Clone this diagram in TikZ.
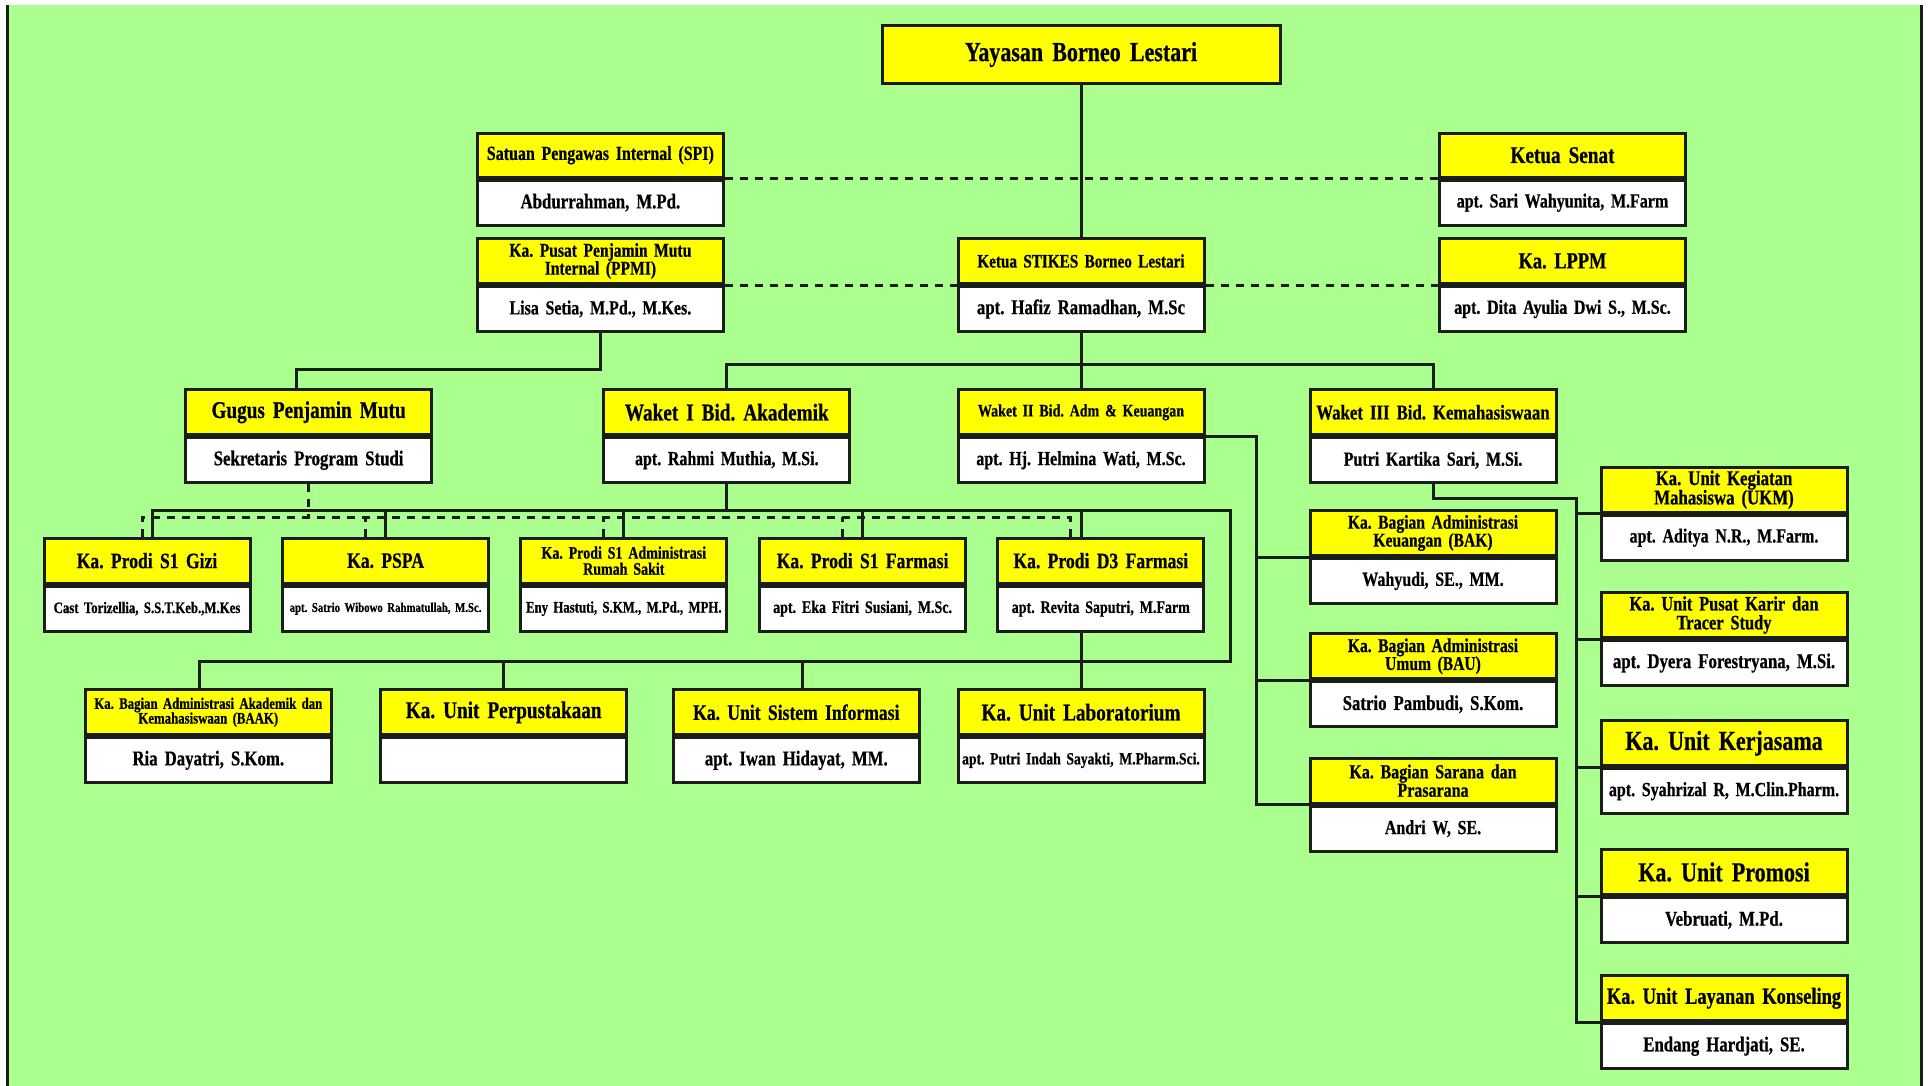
\documentclass[tikz,border=0pt]{standalone}
\usepackage{fontspec}
\setmainfont{Liberation Serif}[FakeStretch=0.8, BoldFeatures={FakeBold=0.6}]
\usetikzlibrary{positioning}
\definecolor{cchijau}{RGB}{170,255,142}
\definecolor{cckuning}{RGB}{255,255,0}
\definecolor{ccgaris}{RGB}{25,30,25}
\newcommand{\uk}[1]{\fontsize{#1pt}{\dimexpr #1pt*92/100\relax}\selectfont}
\frenchspacing

\begin{document}
\begin{tikzpicture}[x=1pt, y=-1pt]

  % Gaya kotak dan garis
  \tikzstyle{kepala} = [draw=ccgaris, fill=cckuning, line width=3pt, minimum height=45pt, inner xsep=3pt, inner ysep=0pt, text width=240pt, align=center, anchor=north, font=\bfseries\uk{24}]
  \tikzstyle{nama} = [kepala, fill=white, font=\bfseries\uk{21}]
  \tikzstyle{prodi} = [text width=200pt]
  \tikzstyle{garis} = [draw=ccgaris, line width=3pt]
  \tikzstyle{putus} = [garis, dash pattern=on 8pt off 7pt]

  % Latar
  \useasboundingbox (0,0) rectangle (1930,1086);
  \fill[white] (0,0) rectangle (1930,1086);
  \fill[cchijau] (7,5) rectangle (1921,1086);
  \draw[garis] (7,5) -- (7,1086);
  \draw[garis] (1921,5) -- (1921,1086);

  % Pimpinan
  \node[kepala, text width=392pt, minimum height=58pt, font=\bfseries\uk{27.5}] (yayasan) at (1081,24) {Yayasan Borneo Lestari};

  \node[kepala, minimum height=44pt, font=\bfseries\uk{20}] (spi) at (600.4,131.7) {Satuan Pengawas Internal (SPI)};
  \node[nama, below=0pt of spi] (spin) {Abdurrahman, M.Pd.};
  \node[kepala, minimum height=44pt] (senat) at (1562.5,131.7) {Ketua Senat};
  \node[nama, below=0pt of senat, font=\bfseries\uk{20}] (senatn) {apt. Sari Wahyunita, M.Farm};

  \node[kepala, font=\bfseries\uk{19.5}] (ppmi) at (600.4,237) {Ka. Pusat Penjamin Mutu\\Internal (PPMI)};
  \node[nama, below=0pt of ppmi, font=\bfseries\uk{20}] (ppmin) {Lisa Setia, M.Pd., M.Kes.};
  \node[kepala, font=\bfseries\uk{19}] (ketua) at (1081,237) {Ketua STIKES Borneo Lestari};
  \node[nama, below=0pt of ketua] (ketuan) {apt. Hafiz Ramadhan, M.Sc};
  \node[kepala, font=\bfseries\uk{23}] (lppm) at (1562.5,237) {Ka. LPPM};
  \node[nama, below=0pt of lppm, font=\bfseries\uk{20}] (lppmn) {apt. Dita Ayulia Dwi S., M.Sc.};

  % Wakil ketua
  \node[kepala] (gugus) at (308.6,388.3) {Gugus Penjamin Mutu};
  \node[nama, below=0pt of gugus] (gugusn) {Sekretaris Program Studi};
  \node[kepala] (waket1) at (726.8,388.3) {Waket I Bid. Akademik};
  \node[nama, below=0pt of waket1, font=\bfseries\uk{20}] (waket1n) {apt. Rahmi Muthia, M.Si.};
  \node[kepala, font=\bfseries\uk{17.5}] (waket2) at (1081,388.3) {Waket II Bid. Adm \& Keuangan};
  \node[nama, below=0pt of waket2, font=\bfseries\uk{20}] (waket2n) {apt. Hj. Helmina Wati, M.Sc.};
  \node[kepala, font=\bfseries\uk{21}] (waket3) at (1433,388.3) {Waket III Bid. Kemahasiswaan};
  \node[nama, below=0pt of waket3, font=\bfseries\uk{20}] (waket3n) {Putri Kartika Sari, M.Si.};

  % Program studi
  \node[kepala, prodi, font=\bfseries\uk{22}] (gizi) at (147,536.7) {Ka. Prodi S1 Gizi};
  \node[nama, prodi, below=0pt of gizi, font=\bfseries\uk{16}] (gizin) {Cast Torizellia, S.S.T.Keb.,M.Kes};
  \node[kepala, prodi, font=\bfseries\uk{22}] (pspa) at (385.6,536.7) {Ka. PSPA};
  \node[nama, prodi, below=0pt of pspa, font=\bfseries\uk{13.5}] (pspan) {apt. Satrio Wibowo Rahmatullah, M.Sc.};
  \node[kepala, prodi, font=\bfseries\uk{17.5}] (admrs) at (623.8,536.7) {Ka. Prodi S1 Administrasi\\Rumah Sakit};
  \node[nama, prodi, below=0pt of admrs, font=\bfseries\uk{16}] (admrsn) {Eny Hastuti, S.KM., M.Pd., MPH.};
  \node[kepala, prodi, font=\bfseries\uk{22}] (sfarm) at (862.6,536.7) {Ka. Prodi S1 Farmasi};
  \node[nama, prodi, below=0pt of sfarm, font=\bfseries\uk{17.5}] (sfarmn) {apt. Eka Fitri Susiani, M.Sc.};
  \node[kepala, prodi, font=\bfseries\uk{22}] (dfarm) at (1100.8,536.7) {Ka. Prodi D3 Farmasi};
  \node[nama, prodi, below=0pt of dfarm, font=\bfseries\uk{17.5}] (dfarmn) {apt. Revita Saputri, M.Farm};

  % Unit akademik
  \node[kepala, font=\bfseries\uk{16}] (baak) at (208.3,688.3) {Ka. Bagian Administrasi Akademik dan\\Kemahasiswaan (BAAK)};
  \node[nama, below=0pt of baak] (baakn) {Ria Dayatri, S.Kom.};
  \node[kepala] (perpus) at (503.7,688.3) {Ka. Unit Perpustakaan};
  \node[nama, below=0pt of perpus] (perpusn) {};
  \node[kepala, font=\bfseries\uk{22}] (si) at (796.3,688.3) {Ka. Unit Sistem Informasi};
  \node[nama, below=0pt of si] (sin) {apt. Iwan Hidayat, MM.};
  \node[kepala] (lab) at (1081,688.3) {Ka. Unit Laboratorium};
  \node[nama, below=0pt of lab, font=\bfseries\uk{17}] (labn) {apt. Putri Indah Sayakti, M.Pharm.Sci.};

  % Bagian (Waket II)
  \node[kepala, font=\bfseries\uk{19.5}] (bak) at (1433,509) {Ka. Bagian Administrasi\\Keuangan (BAK)};
  \node[nama, below=0pt of bak, font=\bfseries\uk{20}] (bakn) {Wahyudi, SE., MM.};
  \node[kepala, font=\bfseries\uk{19.5}] (bau) at (1433,632.3) {Ka. Bagian Administrasi\\Umum (BAU)};
  \node[nama, below=0pt of bau] (baun) {Satrio Pambudi, S.Kom.};
  \node[kepala, font=\bfseries\uk{20}] (sarana) at (1433,756.7) {Ka. Bagian Sarana dan\\Prasarana};
  \node[nama, below=0pt of sarana, font=\bfseries\uk{20}] (saranan) {Andri W, SE.};

  % Unit (Waket III)
  \node[kepala, font=\bfseries\uk{21}] (ukm) at (1724,465.7) {Ka. Unit Kegiatan\\Mahasiswa (UKM)};
  \node[nama, below=0pt of ukm, font=\bfseries\uk{20}] (ukmn) {apt. Aditya N.R., M.Farm.};
  \node[kepala, font=\bfseries\uk{20.5}] (karir) at (1724,591) {Ka. Unit Pusat Karir dan\\Tracer Study};
  \node[nama, below=0pt of karir] (karirn) {apt. Dyera Forestryana, M.Si.};
  \node[kepala, font=\bfseries\uk{27.5}] (kerjasama) at (1724,719.3) {Ka. Unit Kerjasama};
  \node[nama, below=0pt of kerjasama, font=\bfseries\uk{20}] (kerjasaman) {apt. Syahrizal R, M.Clin.Pharm.};
  \node[kepala, font=\bfseries\uk{27.5}] (promosi) at (1724,848) {Ka. Unit Promosi};
  \node[nama, below=0pt of promosi] (promosin) {Vebruati, M.Pd.};
  \node[kepala, font=\bfseries\uk{23}] (konseling) at (1724,974.3) {Ka. Unit Layanan Konseling};
  \node[nama, below=0pt of konseling] (konselingn) {Endang Hardjati, SE.};

  % Yayasan -> Ketua
  \draw[garis] (yayasan.south) -- (ketua.north);

  % Garis koordinasi
  \draw[putus] (spi.south east) -- (senat.south west);
  \draw[putus] (ppmi.south east) -- (ketua.south west);
  \draw[putus] (ketua.south east) -- (lppm.south west);

  % PPMI -> Gugus
  \draw[garis] (ppmin.south) -- ++(0,36) -| ([xshift=-12pt]gugus.north);

  % Ketua -> Waket
  \coordinate (busK) at (1081,364);
  \draw[garis] (ketuan.south) -- (waket2.north);
  \draw[garis] (waket1.north) |- (busK) -| (waket3.north);

  % Waket I -> Prodi dan unit
  \coordinate (busP) at (1230,510);
  \coordinate (busB) at (1230,661);
  \draw[garis] (waket1n.south) -- (waket1n.south |- busP);
  \draw[garis] ([xshift=5pt]gizi.north) |- (busP) -- (busB) -| ([xshift=-9pt]baak.north);
  \foreach \n in {pspa, admrs, sfarm}
    \draw[garis] (\n.north) -- (\n.north |- busP);
  \draw[garis] (lab.north |- busP) -- (lab.north |- dfarm.north);
  \draw[garis] (dfarmn.south -| lab.north) -- (lab.north);
  \draw[garis] (perpus.north) -- (perpus.north |- busB);
  \draw[garis] ([xshift=6pt]si.north) -- ([xshift=6pt]si.north |- busB);

  % Gugus -> Prodi (putus-putus)
  \coordinate (busD) at (1070,517);
  \draw[putus] (gugusn.south) -- (gugusn.south |- busD);
  \draw[putus] ([xshift=-5pt]gizi.north) |- (busD) -- (busD |- dfarm.north);
  \foreach \n in {pspa, admrs, sfarm}
    \draw[putus] ([xshift=-20pt]\n.north) -- ([xshift=-20pt]\n.north |- busD);

  % Waket II -> Bagian
  \coordinate (jalurW) at (1256.5,0);
  \draw[garis] (waket2.south east) -- (waket2.south east -| jalurW) |- (sarana.south west);
  \foreach \n in {bak, bau}
    \draw[garis] (\n.south west) -- (\n.south west -| jalurW);

  % Waket III -> Unit
  \coordinate (jalurE) at (1576,498);
  \draw[garis] (waket3n.south) |- (jalurE) |- (konseling.south west);
  \foreach \n in {ukm, karir, kerjasama, promosi}
    \draw[garis] (\n.south west) -- (\n.south west -| jalurE);

\end{tikzpicture}
\end{document}
